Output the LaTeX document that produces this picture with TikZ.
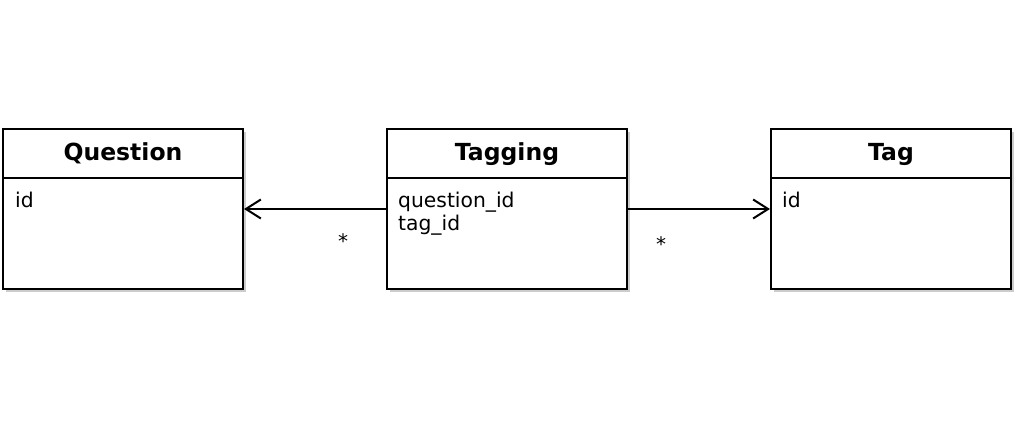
\documentclass[tikz,border=0pt]{standalone}
\usepackage{fontspec}
\setmainfont{DejaVu Sans}
\usetikzlibrary{arrows.meta,positioning,shadows}
\tikzset
{
    classbox/.style = {rectangle, draw=black, line width=2pt, minimum width=240pt, minimum height=160pt, fill=white, drop shadow={shadow xshift=3pt, shadow yshift=-3pt, opacity=0.4, fill=black!50}},
    headtext/.style = {font=\fontsize{23.5}{28}\selectfont\bfseries, inner sep=0pt, anchor=base},
    attrtext/.style = {font=\fontsize{20.3}{23}\selectfont, align=left, anchor=base west, inner sep=0pt},
    multtext/.style = {font=\fontsize{20}{23}\selectfont, inner sep=0pt},
    assoc/.style    = {line width=2pt, -{Straight Barb[length=15pt,width=19pt,line width=2pt]}}
}

\begin{document}
\begin{tikzpicture}[x=1pt,y=-1pt]
\useasboundingbox[fill=white] (0,0) rectangle (1023,430);
% classes
\node[classbox] (question) at (123,209) {};
\node[classbox] (tagging) at (507,209) {};
\node[classbox] (tag) at (891,209) {};
\foreach \cls in {question,tagging,tag}
{
	\draw[line width=2pt] ([yshift=-50pt]\cls.north west) -- ([yshift=-50pt]\cls.north east);
}
% titles
\node[headtext] (questiontitle) at ([yshift=-33pt]question.north) {Question};
\node[headtext] (taggingtitle) at ([yshift=-33pt]tagging.north) {Tagging};
\node[headtext] (tagtitle) at ([yshift=-33pt]tag.north) {Tag};
% attributes (base of the last line)
\node[attrtext] (questionattr) at ([xshift=13pt,yshift=-80pt]question.north west) {id};
\node[attrtext] (taggingattr) at ([xshift=12pt,yshift=-103pt]tagging.north west) {question\_id\\tag\_id};
\node[attrtext] (tagattr) at ([xshift=12pt,yshift=-80pt]tag.north west) {id};
% associations
\draw[assoc] (tagging.west) -- (question.east);
\draw[assoc] (tagging.east) -- (tag.west);
\node[multtext] (multleft) at (343,241) {*};
\node[multtext] (multright) at (661,244) {*};
\end{tikzpicture}
\end{document}
